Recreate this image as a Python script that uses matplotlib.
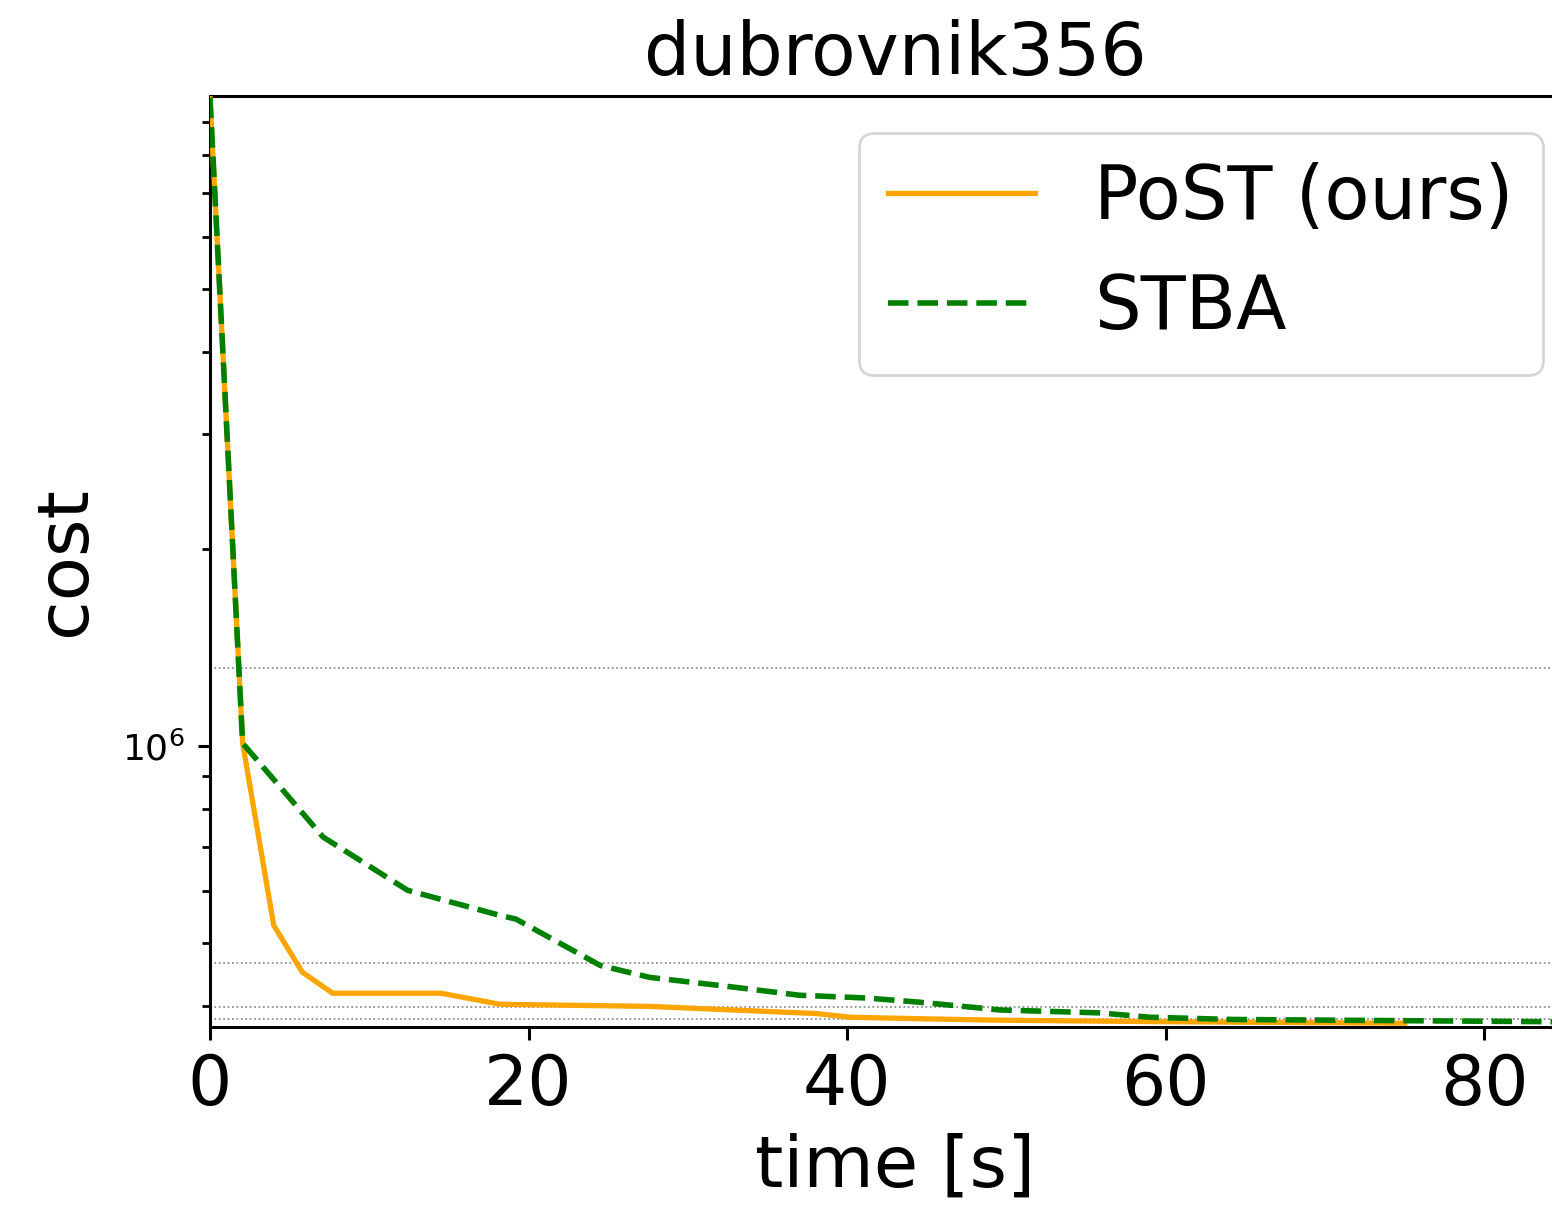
import matplotlib
matplotlib.use("Agg")
import matplotlib.pyplot as plt

# tempos [s] e custos
t_post = [0, 2.05, 4.0, 5.8, 7.7, 14.5, 18.2, 27.6, 32.8, 38.1, 40.2, 44.5, 49.6, 60, 75.0]
c_post = [9.8e6, 1.01e6, 5.32e5, 4.51e5, 4.19e5, 4.19e5, 4.03e5, 4.00e5, 3.95e5,
          3.90e5, 3.85e5, 3.83e5, 3.81e5, 3.79e5, 3.77e5]

t_stba = [0, 2.05, 7.1, 12.4, 18.2, 19.2, 24.5, 27.6, 32.9, 37.0, 41.2, 44.5,
          49.6, 55.8, 59.0, 64.2, 84.2, 90.0]
c_stba = [9.8e6, 1.01e6, 7.26e5, 6.02e5, 5.51e5, 5.44e5, 4.62e5, 4.43e5, 4.28e5,
          4.16e5, 4.12e5, 4.06e5, 3.95e5, 3.91e5, 3.85e5, 3.82e5, 3.79e5, 3.785e5]

# linhas de referência horizontais
ref_levels = [1.317e6, 4.66e5, 3.99e5, 3.82e5]

fig = plt.figure(figsize=(15.52, 12.08), dpi=100)
ax = fig.add_axes([210 / 1552, 181 / 1208, 1370 / 1552, 931 / 1208])

for v in ref_levels:
    ax.axhline(v, color='gray', linestyle=':', linewidth=1.2, zorder=1)

ax.plot(t_post, c_post, color='orange', linewidth=3.8, label='PoST (ours)', zorder=3)
ax.plot(t_stba, c_stba, color='green', linestyle='--', linewidth=4, label='STBA', zorder=3)

ax.set_yscale('log')
ax.set_xlim(0, 86)
ax.set_ylim(3.72e5, 9.86e6)
ax.set_xticks([0, 20, 40, 60, 80])

ax.set_title('dubrovnik356', fontsize=52.5, pad=15)
ax.set_xlabel('time [s]', fontsize=52, labelpad=10)
ax.set_ylabel('cost', fontsize=52, labelpad=16)

ax.tick_params(axis='x', which='major', labelsize=50, length=9, width=2.2, pad=9)
ax.tick_params(axis='y', which='major', labelsize=26, length=9, width=2.2, pad=9)
ax.tick_params(axis='y', which='minor', length=5.5, width=2.0, labelleft=False)
for s in ax.spines.values():
    s.set_linewidth(2.2)

leg = ax.legend(loc='upper right', fontsize=53, borderaxespad=0.5)
leg.get_frame().set_linewidth(2)

fig.savefig('out.png', dpi=100)
